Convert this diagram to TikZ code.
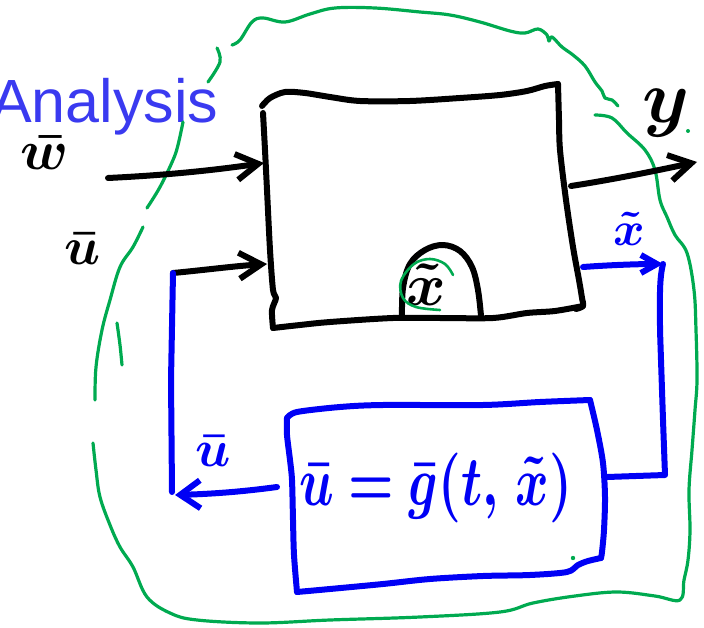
\documentclass[tikz,border=0pt]{standalone}
\usepackage[no-math]{fontspec}
\usepackage{bm}
\newfontfamily\anfont{Liberation Sans}
\usetikzlibrary{arrows.meta}
\definecolor{penblue}{RGB}{0,0,245}
\definecolor{pengreen}{RGB}{0,170,80}
\definecolor{titleblue}{RGB}{58,58,240}
\tikzset{
  pen/.style={line width=6pt, line cap=round, line join=round},
  blk/.style={pen, black},
  blu/.style={pen, penblue},
  grn/.style={line width=3.2pt, line cap=round, line join=round, pengreen},
  barb/.style={-{Straight Barb[length=22pt,width=26pt]}},
  smallbarb/.style={-{Straight Barb[length=16pt,width=18pt]}},
  hand/.style={inner sep=0pt, transform shape},
}
\begin{document}
\begin{tikzpicture}[x=1pt,y=-1pt]
\useasboundingbox (0,0) rectangle (704,628);

% title
\node[anchor=base west, inner sep=0pt, text=titleblue, font=\anfont\fontsize{61}{61}\selectfont] (title) at (-9,123) {Analysis};

% ---------- green boundary ----------
\draw[grn] plot[smooth, tension=0.6] coordinates {(217,48)(220,62)(208,82)};
\draw[grn] plot[smooth, tension=0.6] coordinates {(183,122)(178,145)(173,160)(160,187)(147,208)};
\draw[grn] plot[smooth, tension=0.6] coordinates {(143,227)(133,247)(120,267)(110,300)(102,330)(96,367)(95,400)};
\draw[grn] plot[smooth, tension=0.6] coordinates {(117,323)(120,345)(122,365)};
\draw[grn] plot[smooth, tension=0.6] coordinates {(93,443)(96,470)(100,497)(110,525)(120,547)(133,567)(147,597)(170,613)(197,620)(260,623)(330,620)(420,617)(500,612)(533,603)(575,596)(617,592)(655,596)(680,600)(684,580)(688,560)(690,530)(689,490)(692,450)(695,410)(697,380)(696,330)(694,290)(687,253)(675,235)(667,217)(660,200)(655,170)(645,150)(627,133)(612,118)(595,115)};
\draw[grn] plot[smooth, tension=0.6] coordinates {(232,45)(240,40)(252,22)(263,18)(285,22)(310,14)(335,8)(375,8)(420,12)(450,15)(480,22)(510,31)(525,33)(538,29)(547,35)(549,41)(552,37)(562,47)(573,55)(585,66)(595,82)(602,91)(605,98)(612,100)(618,106)};
\fill[pengreen] (688,131) circle (2pt) (573,558) circle (2.2pt);

% ---------- plant block ----------
\coordinate (pTL) at (262,106);
\coordinate (pTR) at (558,84);
\coordinate (pBR) at (583,306);
\coordinate (pBL) at (273,328);
\draw[blk] plot[smooth, tension=0.5] coordinates {(pTL)(270,98)(285,92)(305,93)(330,97)(360,101)(410,101)(460,98)(500,95)(527,91)(545,86)(pTR)};
\draw[blk] plot[smooth, tension=0.5] coordinates {(pTR)(559,120)(560,150)(566,200)(573,247)(579,280)(582,298)(pBR)(576,309)};
\draw[blk] plot[smooth, tension=0.5] coordinates {(pBR)(555,311)(527,313)(493,318)(440,318)(393,318)(330,322)(300,325)(pBL)};
\draw[blk] plot[smooth, tension=0.5] coordinates {(pBL)(272,310)(276,298)(273,290)(270,250)(267,190)(265,150)(263,113)};
% dome with state
\draw[blk] plot[smooth, tension=0.6] coordinates {(402,318)(403,288)(410,264)(425,250)(443,245)(460,251)(472,267)(478,290)(481,316)};
\node[hand, scale=6] (xin) at (426,285) {$\bm{\tilde x}$};
\draw[grn, line width=2.6pt] plot[smooth, tension=0.6] coordinates {(453,275)(445,264)(430,259)(414,264)(401,281)(403,298)(416,307)(440,310)};

% ---------- inputs ----------
\node[hand, scale=5.6] (wlab) at (45,153) {$\bm{\bar w}$};
\node[hand, scale=5.3] (ulab) at (83,249) {$\bm{\bar u}$};
\coordinate (w1) at (108,178);
\coordinate (w2) at (264,163);
\coordinate (u1) at (173,273);
\coordinate (u2) at (267,264);
\draw[blk, barb] (w1) .. controls (170,175) and (215,170) .. (w2);
\draw[blk, barb] (u1) .. controls (205,270) and (235,266) .. (u2);

% ---------- output ----------
\node[hand, scale=7.5] (ylab) at (666,113) {$\bm{y}$};
\coordinate (y1) at (571,186);
\coordinate (y2) at (697,162);
\draw[blk, barb] (y1) .. controls (610,180) and (650,172) .. (y2);

% ---------- state feedback ----------
\node[hand, scale=4.8, text=penblue] (xlab) at (629,229) {$\bm{\tilde x}$};
\coordinate (x1) at (583,267);
\coordinate (x2) at (663,264);
\coordinate (x3) at (665,475);
\coordinate (x4) at (607,477);
\draw[blu, smallbarb] (x1) .. controls (610,265) and (640,264) .. (x2);
\draw[blu] (x2) .. controls (659,280) and (660,300) .. (660,330) -- (663,420) -- (x3) -- (x4);

% ---------- controller block ----------
\draw[blu] plot[smooth, tension=0.5] coordinates {(287,418)(297,412)(340,407)(383,405)(483,405)(540,402)(590,400)};
\draw[blu] plot[smooth, tension=0.5] coordinates {(590,400)(597,430)(603,463)(605,497)(604,530)(602,552)(601,558)};
\draw[blu] plot[smooth, tension=0.5] coordinates {(601,558)(588,561)(578,565)(567,572)(530,575)(483,576)(430,579)(383,584)(330,589)(297,592)};
\draw[blu] plot[smooth, tension=0.5] coordinates {(297,592)(294,555)(293,520)(292,480)(290,460)(287,435)(287,418)};
\node[hand, xscale=5.1, yscale=7, text=penblue] (ctrl) at (436,488) {$\bm{\bar u = \bar g(t,\, \tilde x)}$};

% controller output back to plant input
\node[hand, scale=5.2, text=penblue] (ublab) at (213,451) {$\bm{\bar u}$};
\coordinate (c1) at (277,487);
\coordinate (c2) at (175,495);
\coordinate (c3) at (172,492);
\draw[blu, -{Straight Barb[length=20pt,width=28pt]}] (c1) .. controls (240,492) and (210,494) .. (c2);
\draw[blu] (c3) -- (171,380) -- (u1);
\end{tikzpicture}
\end{document}
